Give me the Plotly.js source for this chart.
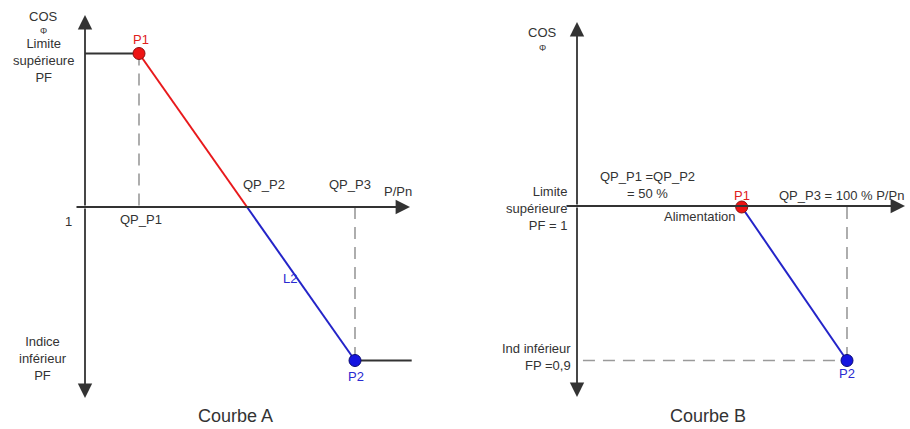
<!DOCTYPE html>
<html>
<head>
<meta charset="utf-8">
<script src="https://cdn.plot.ly/plotly-3.0.1.min.js"></script>
<style>html,body{margin:0;padding:0;background:#fff}#chart{width:910px;height:429px}</style>
</head>
<body>
<div id="chart"></div>
<script>
// ---- Data (abstract units: x = P/Pn steps, y = cos phi level: 1 upper limit, 0 = axis, -1 lower limit)
const curveA_x = [0, 1, 3, 5, 6.05];
const curveA_y = [1, 1, 0, -1, -1];
const curveA_colors = ['#333333', '#e8191c', '#2424c8', '#333333'];
const curveB_x = [3.05, 5];
const curveB_y = [0, -1];
const curveB_colors = ['#2424c8'];
const pointLabels = ['P1', 'P2'];
const pointColors = ['#ee1414', '#1414e0'];
const pointEdges = ['#8a1010', '#0a0a70'];

const FONT = 'Liberation Sans, Arial, sans-serif';
const TXT = '#333333';
const DASH = '#9a9a9a';

function segTraces(xs, ys, colors, xa) {
  const t = [];
  for (let i = 0; i < xs.length - 1; i++) {
    t.push({x: [xs[i], xs[i+1]], y: [ys[i], ys[i+1]], xaxis: xa, yaxis: 'y', mode: 'lines',
      line: {color: colors[i], width: 2}, hoverinfo: 'skip'});
  }
  return t;
}
function dashTrace(x, y, xa) {
  return {x: x, y: y, xaxis: xa, yaxis: 'y', mode: 'lines',
    line: {color: DASH, width: 1.6, dash: '12px,8px'}, hoverinfo: 'skip'};
}
function pointTrace(x, y, i, xa) {
  return {x: [x], y: [y], xaxis: xa, yaxis: 'y', mode: 'markers',
    marker: {size: 12, color: pointColors[i], line: {color: pointEdges[i], width: 1}}, hoverinfo: 'skip'};
}

// P1 / P2 in curve A are the knots at the ends of the sloped part
const a1 = 1, a2 = 3;
const traces = [
  dashTrace([curveA_x[a1], curveA_x[a1]], [curveA_y[a1], 0], 'x'),
  dashTrace([curveA_x[a2], curveA_x[a2]], [0, curveA_y[a2]], 'x'),
  ...segTraces(curveA_x, curveA_y, curveA_colors, 'x'),
  pointTrace(curveA_x[a1], curveA_y[a1], 0, 'x'),
  pointTrace(curveA_x[a2], curveA_y[a2], 1, 'x'),
  dashTrace([curveB_x[1], curveB_x[1]], [0, curveB_y[1]], 'x2'),
  dashTrace([0.11, curveB_x[1]], [curveB_y[1], curveB_y[1]], 'x2'),
  ...segTraces(curveB_x, curveB_y, curveB_colors, 'x2'),
  pointTrace(curveB_x[0], curveB_y[0], 0, 'x2'),
  pointTrace(curveB_x[1], curveB_y[1], 1, 'x2')
];

// ---- layout helpers (pixel placement -> paper)
const W = 910, H = 429;
function txt(px, py, text, opts) {
  opts = opts || {};
  return Object.assign({
    x: px / W, y: 1 - py / H, xref: 'paper', yref: 'paper', text: text, showarrow: false,
    xanchor: 'center', yanchor: 'middle',
    font: {family: FONT, size: opts.size || 13, color: opts.color || TXT}
  }, opts.extra || {});
}
function arrow(tipx, tipy, tailx, taily) {
  return {x: tipx / W, y: 1 - tipy / H, xref: 'paper', yref: 'paper', text: '',
    showarrow: true, ax: tailx - tipx, ay: taily - tipy, axref: 'pixel', ayref: 'pixel',
    arrowhead: 2, arrowsize: 1.6, arrowwidth: 1.8, arrowcolor: '#333333', standoff: 0};
}

const RED = '#e0201c', BLUE = '#2a2ad0';
const annotations = [
  // axes A
  arrow(85, 15, 85, 207), arrow(85, 398, 85, 207), arrow(410, 207, 75, 207),
  // axes B
  arrow(577, 22, 577, 206), arrow(577, 397, 577, 206), arrow(905, 206, 565, 206),
  // texts A
  txt(43, 17, 'COS'),
  txt(43, 31, 'Φ', {size: 9}),
  txt(43, 60, 'Limite<br>supérieure<br>PF'),
  txt(141, 40, pointLabels[0], {color: RED}),
  txt(68, 221, '1'),
  txt(141, 220, 'QP_P1'),
  txt(264, 185, 'QP_P2'),
  txt(350, 185, 'QP_P3'),
  txt(398, 191, 'P/Pn'),
  txt(290, 278, 'L2', {color: BLUE}),
  txt(356, 376, pointLabels[1], {color: BLUE}),
  txt(43, 358, 'Indice<br>inférieur<br>PF'),
  txt(235, 416, 'Courbe A', {size: 18}),
  // texts B
  txt(542, 32, 'COS'),
  txt(542, 48, 'Φ', {size: 9}),
  txt(647, 185, 'QP_P1 =QP_P2<br>= 50 %'),
  txt(569, 208, 'Limite<br>supérieure<br>PF = 1', {extra: {xanchor: 'right', align: 'right'}}),
  txt(700, 216, 'Alimentation'),
  txt(742, 195, pointLabels[0], {color: RED}),
  txt(841, 195, 'QP_P3 = 100 % P/Pn'),
  txt(573, 357, 'Ind inférieur<br>FP =0,9', {extra: {xanchor: 'right', align: 'right'}}),
  txt(847, 373, pointLabels[1], {color: BLUE}),
  txt(708, 416, 'Courbe B', {size: 18})
];

const hidden = {visible: false, showgrid: false, zeroline: false, fixedrange: true};
const layout = {
  width: W, height: H, autosize: false,
  margin: {l: 0, r: 0, t: 0, b: 0, pad: 0},
  paper_bgcolor: '#ffffff', plot_bgcolor: '#ffffff',
  showlegend: false, hovermode: false,
  font: {family: FONT, color: TXT},
  xaxis: Object.assign({domain: [0, 0.5], range: [-85/54, 370/54]}, hidden),
  xaxis2: Object.assign({domain: [0.5, 1], range: [-122/54, 333/54], anchor: 'y'}, hidden),
  yaxis: Object.assign({domain: [0, 1], range: [-222/153.5, 207/153.5]}, hidden),
  annotations: annotations
};

Plotly.newPlot('chart', traces, layout, {displayModeBar: false, staticPlot: true});
</script>
</body>
</html>
